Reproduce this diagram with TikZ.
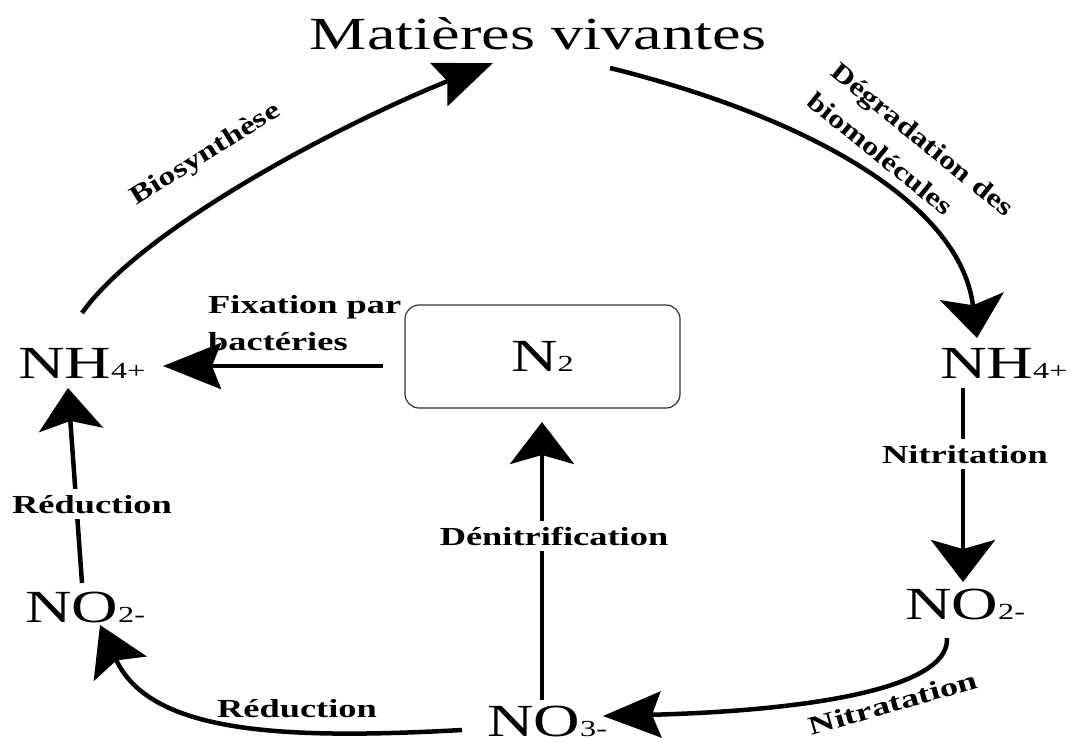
\documentclass[tikz,border=0pt]{standalone}
\usepackage{fontspec}
\setmainfont{Liberation Serif}[FakeStretch=1.4]
\usetikzlibrary{arrows.meta}
\newcommand\ionsub[1]{{\fontsize{23}{23}\selectfont #1}}
\begin{document}
\begin{tikzpicture}[x=1pt,y=-1pt,
  chem/.style={inner sep=0pt, font=\fontsize{46}{50}\selectfont},
  lbl/.style={inner sep=0pt, font=\bfseries\fontsize{26}{32}\selectfont},
  cut/.style={fill=white, inner xsep=3pt, inner ysep=6pt},
  conn/.style={line width=4.5pt},
  hor/.style={conn, -{Stealth[length=58pt,width=46pt,inset=9pt]}},
  ver/.style={conn, -{Stealth[length=42pt,width=64pt,inset=9pt]}},
  mid/.style={conn, -{Stealth[length=48pt,width=58pt,inset=9pt]}}]
\fill[white] (0,0) rectangle (1072,742);
\useasboundingbox (0,0) rectangle (1072,742);

% species
\node[chem, anchor=base] (mv) at (538,49) {Matières vivantes};
\node[chem, anchor=base west] (nhL) at (18,378) {NH\ionsub{4+}};
\node[chem, anchor=base west] (nhR) at (940,378) {NH\ionsub{4+}};
\node[chem, draw=black!80, line width=1.2pt, rounded corners=14pt,
      minimum width=275pt, minimum height=103pt] (n2) at (542.5,356.5) {N\ionsub{2}};
\node[chem, anchor=base west] (no2L) at (25,622) {NO\ionsub{2-}};
\node[chem, anchor=base west] (no2R) at (905,619) {NO\ionsub{2-}};
\node[chem, anchor=base west] (no3) at (487,736) {NO\ionsub{3-}};

% connector end points
\coordinate (bioS) at (82,313);   \coordinate (bioE) at (493,63);
\coordinate (degS) at (610,68);   \coordinate (degE) at (977,338);
\coordinate (fixS) at (383,366);  \coordinate (fixE) at (163,366);
\coordinate (nitS) at (963,388);  \coordinate (nitE) at (963,582);
\coordinate (redS) at (82,583);   \coordinate (redE) at (68,388);
\coordinate (denS) at (542,700);  \coordinate (denE) at (542,422);
\coordinate (rbS) at (462,730);   \coordinate (rbE) at (100,625);
\coordinate (ntaS) at (947,638);  \coordinate (ntaE) at (603,716);

% connectors
\draw[hor] (bioS) .. controls (142,228) and (343,123) .. (bioE);
\draw[ver] (degS) .. controls (800,115) and (960,200) .. (degE);
\draw[hor] (fixS) -- (fixE);
\draw[ver] (nitS) -- (nitE);
\draw[ver] (redS) -- (redE);
\draw[ver] (denS) -- (denE);
\draw[mid] (rbS) .. controls (280,740) and (150,733) .. (rbE);
\draw[hor] (ntaS) .. controls (950,690) and (800,711) .. (ntaE);

% labels
\node[lbl, rotate=32, font=\bfseries\fontsize{26}{32}\selectfont\addfontfeatures{FakeStretch=1.3}] (lbio) at (206,155) {Biosynthèse};
\node[lbl, rotate=-39, align=left, font=\bfseries\fontsize{26}{38}\selectfont\addfontfeatures{FakeStretch=1.25}] (ldeg) at (911,154) {Dégradation des\\biomolécules};
\node[lbl, anchor=north west, align=left, font=\bfseries\fontsize{26}{37}\selectfont] (lfix) at (208,295) {Fixation par\\bactéries};
\node[lbl, cut, anchor=base] (lnit) at (965,463) {Nitritation};
\node[lbl, cut, anchor=base] (lred) at (92,513) {Réduction};
\node[lbl, cut, anchor=base] (lden) at (554,545) {Dénitrification};
\node[lbl, anchor=base] (lrb) at (297,717) {Réduction};
\node[lbl, rotate=16] (lnta) at (893,703) {Nitratation};
\end{tikzpicture}
\end{document}
